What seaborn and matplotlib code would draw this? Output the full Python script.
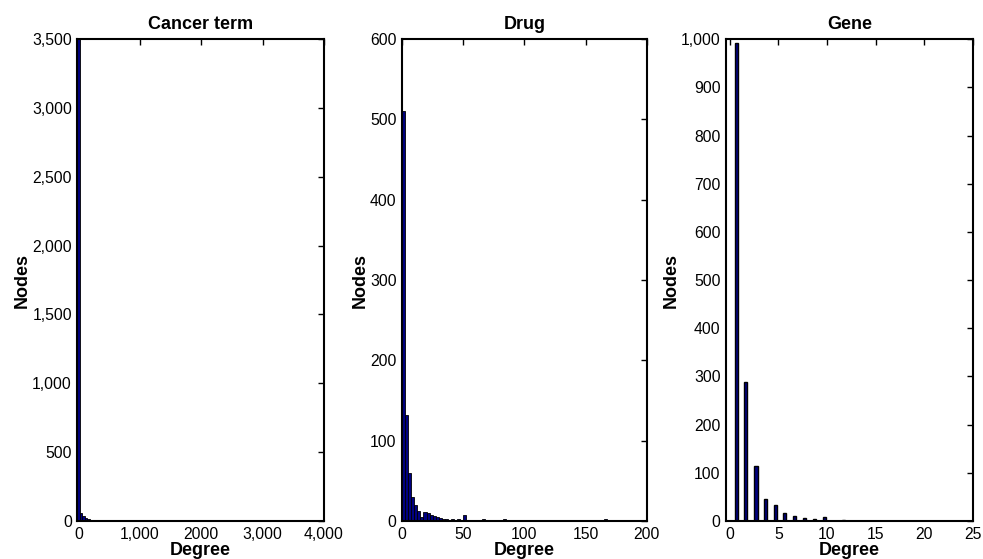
import numpy as np
import pandas as pd
import matplotlib
matplotlib.use("Agg")
import matplotlib.pyplot as plt
import seaborn as sns
from matplotlib.ticker import FuncFormatter

# ---------------- data ----------------
cancer_degree = [0, 40, 80, 120, 160, 200, 240, 320, 360, 480, 520, 3160]
cancer_nodes = [3500, 55, 35, 20, 12, 8, 5, 4, 3, 4, 3, 3]

drug_degree = [1.25, 3.75, 6.25, 8.75, 11.25, 13.75, 16.25, 18.75, 21.25, 23.75,
               26.25, 28.75, 31.25, 33.75, 36.25, 38.75, 41.25, 43.75, 46.25, 48.75,
               51.25, 53.75, 56.25, 61.25, 63.75, 66.25, 68.75, 73.75, 83.75, 86.25,
               96.25, 166.25]
drug_nodes = [510, 132, 60, 30, 20, 13, 5, 11, 10, 8,
              6, 5, 4, 3, 2, 1, 3, 1, 2, 1,
              8, 1, 1, 1, 1, 2, 1, 1, 2, 1,
              1, 2]

gene_degree = [0.7, 1.65, 2.7, 3.7, 4.7, 5.65, 6.7, 7.65, 8.7, 9.7, 11.7, 13.7, 15.9, 18.8, 22.9]
gene_nodes = [993, 288, 114, 45, 33, 16, 11, 7, 5, 8, 2, 1, 1, 1, 1]

titles = ["Cancer term", "Drug", "Gene"]
cancer_xticks = [0, 1000, 2000, 3000, 4000]
cancer_xticklabels = ["0", "1,000", "2000", "3,000", "4,000"]
cancer_yticks = [0, 500, 1000, 1500, 2000, 2500, 3000, 3500]
drug_xticks = [0, 50, 100, 150, 200]
drug_yticks = [0, 100, 200, 300, 400, 500, 600]
gene_xticks = [0, 5, 10, 15, 20, 25]
gene_yticks = [0, 100, 200, 300, 400, 500, 600, 700, 800, 900, 1000]

# ---------------- style ----------------
sns.set_style("white")
plt.rcParams['font.family'] = ['Liberation Sans', 'DejaVu Sans']
plt.rcParams['text.color'] = 'black'
plt.rcParams['axes.labelcolor'] = 'black'
plt.rcParams['axes.titlecolor'] = 'black'
BAR = "#000080"
fs_tick = 11.3
fs_lab = 13

fig = plt.figure(figsize=(9.83, 5.59), dpi=100)
ax1 = fig.add_axes([0.0788, 0.068, 0.2508, 0.862])
ax2 = fig.add_axes([0.409, 0.068, 0.249, 0.862])
ax3 = fig.add_axes([0.7386, 0.068, 0.2513, 0.862])

comma = FuncFormatter(lambda v, p: f"{int(round(v)):,}")

# Cancer term
cdf = pd.DataFrame({"Degree": cancer_degree, "Nodes": cancer_nodes})
sns.histplot(data=cdf, x="Degree", weights="Nodes", binwidth=40, binrange=(-20, 4000),
             ax=ax1, color=BAR, edgecolor="black", linewidth=0.6, alpha=1)
ax1.set_xlim(-20, 4000)
ax1.set_ylim(0, 3500)
ax1.set_xticks(cancer_xticks)
ax1.set_xticklabels(cancer_xticklabels)
ax1.set_yticks(cancer_yticks)
ax1.yaxis.set_major_formatter(comma)

# Drug
ddf = pd.DataFrame({"Degree": drug_degree, "Nodes": drug_nodes})
sns.histplot(data=ddf, x="Degree", weights="Nodes", binwidth=2.5, binrange=(0, 200),
             ax=ax2, color=BAR, edgecolor="black", linewidth=0.6, alpha=1)
ax2.set_xlim(0, 200)
ax2.set_ylim(0, 600)
ax2.set_xticks(drug_xticks)
ax2.set_yticks(drug_yticks)

# Gene
gdf = pd.DataFrame({"Degree": gene_degree, "Nodes": gene_nodes})
sns.barplot(data=gdf, x="Degree", y="Nodes", native_scale=True, orient="x",
            width=0.34, color=BAR, saturation=1, edgecolor="black",
            linewidth=1.0, errorbar=None, ax=ax3)
ax3.set_xlim(-0.37, 25)
ax3.set_ylim(0, 1000)
ax3.set_xticks(gene_xticks)
ax3.set_xticklabels([str(t) for t in gene_xticks])
ax3.set_yticks(gene_yticks)
ax3.yaxis.set_major_formatter(comma)

for ax, t in zip([ax1, ax2, ax3], titles):
    ax.set_title(t, fontsize=fs_lab, fontweight="bold", pad=7, color="black")
    ax.set_xlabel("Degree", fontsize=fs_lab, fontweight="bold", labelpad=0, color="black")
    ax.set_ylabel("Nodes", fontsize=fs_lab, fontweight="bold", labelpad=1, color="black")
    ax.tick_params(direction="in", top=True, right=True, length=4.5, width=1,
                   labelsize=fs_tick, colors="black", pad=4)
    for s in ax.spines.values():
        s.set_visible(True)
        s.set_color("black")
        s.set_linewidth(1.5)
    ax.grid(False)

fig.savefig("out.png", dpi=100)
